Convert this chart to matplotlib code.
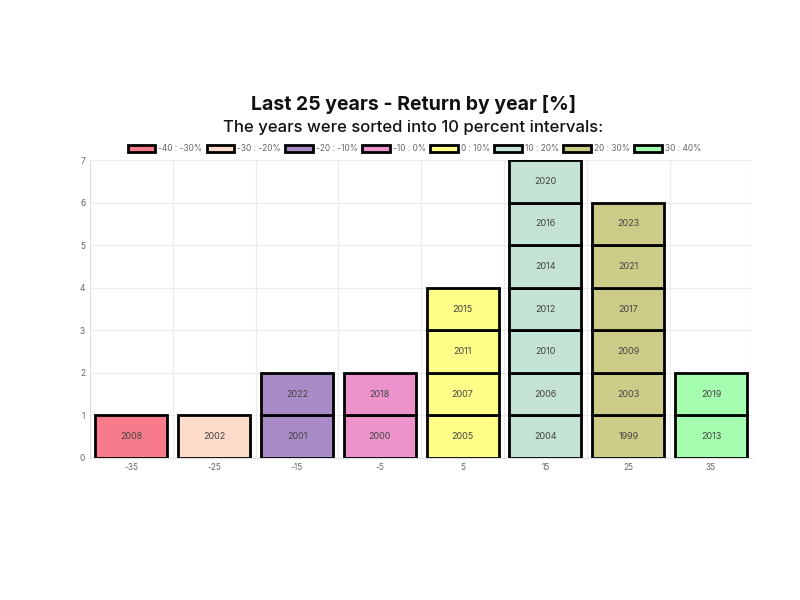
import matplotlib.pyplot as plt
import numpy as np

plt.rcParams['font.family'] = ['Inter', 'DejaVu Sans']

bins = ['-35', '-25', '-15', '-5', '5', '15', '25', '35']
legend_labels = ['-40 : -30%', '-30 : -20%', '-20 : -10%', '-10 : 0%',
                 '0 : 10%', '10 : 20%', '20 : 30%', '30 : 40%']
colors = ['#f77b8a', '#fddccc', '#a98bc8', '#ec93cc',
          '#fdfd88', '#c4e3d4', '#cccc88', '#a5fdb0']
years = [
    [2008],
    [2002],
    [2001, 2022],
    [2000, 2018],
    [2005, 2007, 2011, 2015],
    [2004, 2006, 2010, 2012, 2014, 2016, 2020],
    [1999, 2003, 2009, 2017, 2021, 2023],
    [2013, 2019],
]

fig = plt.figure(figsize=(8, 6), dpi=100)
ax = fig.add_axes([0.1125, 0.237, 0.828, 0.496])

x = np.arange(len(bins))
for i, ys in enumerate(years):
    for level, yr in enumerate(ys):
        ax.bar(x[i], 1, bottom=level, width=0.87, color=colors[i],
               edgecolor='black', linewidth=2, zorder=3)
        ax.text(x[i], level + 0.5, str(yr), ha='center', va='center',
                fontsize=6.5, color='#444444', zorder=4)

handles = [plt.Rectangle((0, 0), 1, 1, facecolor=c, edgecolor='black', linewidth=2)
           for c in colors]
fig.legend(handles, legend_labels, loc='center', bbox_to_anchor=(0.518, 0.752),
           ncol=8, frameon=False, fontsize=6, labelcolor='#666666',
           handlelength=3.3, handleheight=0.8, columnspacing=0.5, handletextpad=0.4)

ax.set_xlim(-0.5, len(bins) - 0.5)
ax.set_ylim(0, 7)
ax.set_xticks(x)
ax.set_xticklabels(bins)
ax.set_xticks(np.arange(-0.5, len(bins)), minor=True)
ax.tick_params(axis='both', labelsize=6, colors='#666666', length=0, which='both')
ax.grid(True, axis='y', color='#ececec', linewidth=0.8, zorder=0)
ax.grid(True, axis='x', which='minor', color='#ececec', linewidth=0.8, zorder=0)
for s in ax.spines.values():
    s.set_visible(False)
ax.spines['left'].set_visible(True)
ax.spines['left'].set_color('#e0e0e0')
ax.spines['bottom'].set_visible(True)
ax.spines['bottom'].set_color('#e0e0e0')

fig.text(0.517, 0.825, 'Last 25 years - Return by year [%]', ha='center', va='center',
         fontsize=14, fontweight='bold', color='#111111')
fig.text(0.517, 0.787, 'The years were sorted into 10 percent intervals:', ha='center',
         va='center', fontsize=12, fontweight='medium', color='#111111')

fig.savefig('out.png', dpi=100)
